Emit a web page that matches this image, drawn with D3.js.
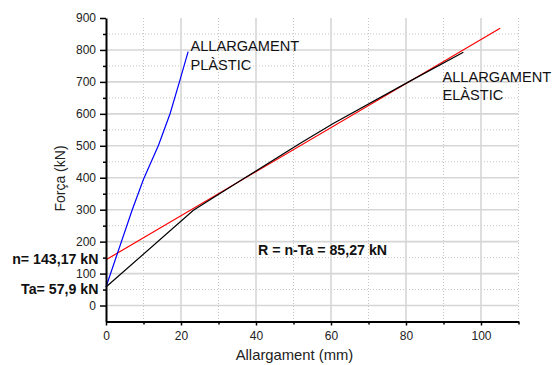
<!DOCTYPE html>
<html>
<head>
<meta charset="utf-8">
<script src="https://cdn.jsdelivr.net/npm/d3@7"></script>
<style>
  body { margin: 0; background: #fff; }
  svg { display: block; font-family: "Liberation Sans", Arial, sans-serif; }
</style>
</head>
<body>
<svg id="chart" width="560" height="365"></svg>
<script>
// data
const plasticX = [0, 7, 10, 14, 17.1, 19.7, 21.9];
const plasticY = [57.9, 300, 395, 502, 601, 705, 795];
const elasticX = [0, 23.3, 36, 51.7, 60.6, 80.2, 95.3];
const elasticY = [57.9, 298, 392, 507, 570, 697, 793];
const fitX = [0, 105.1];
const fitY = [143.17, 868];
const xTicks = [0, 20, 40, 60, 80, 100];
const yTicks = [0, 100, 200, 300, 400, 500, 600, 700, 800, 900];

const svg = d3.select("#chart");
const x = d3.scaleLinear().domain([0, 110]).range([106, 518.5]);
const y = d3.scaleLinear().domain([-50, 900]).range([321.5, 18]);

const xMinor = d3.range(10, 111, 20);
const yMinor = d3.range(50, 900, 100);

// grid
const grid = svg.append("g");
grid.selectAll(".vmin").data(xMinor).enter().append("line")
  .attr("x1", d => x(d)).attr("x2", d => x(d))
  .attr("y1", y(900)).attr("y2", y(-50))
  .attr("stroke", "#c4c4c4").attr("stroke-width", 1).attr("stroke-dasharray", "1,2");
grid.selectAll(".hmin").data(yMinor).enter().append("line")
  .attr("x1", x(0)).attr("x2", x(110))
  .attr("y1", d => y(d)).attr("y2", d => y(d))
  .attr("stroke", "#c4c4c4").attr("stroke-width", 1).attr("stroke-dasharray", "1,2");
grid.selectAll(".vmaj").data(xTicks.slice(1)).enter().append("line")
  .attr("x1", d => x(d)).attr("x2", d => x(d))
  .attr("y1", y(900)).attr("y2", y(-50))
  .attr("stroke", "#d6d6d6").attr("stroke-width", 1.6);
grid.selectAll(".hmaj").data(yTicks.slice(0, -1)).enter().append("line")
  .attr("x1", x(0)).attr("x2", x(110))
  .attr("y1", d => y(d)).attr("y2", d => y(d))
  .attr("stroke", "#d6d6d6").attr("stroke-width", 1.6);

// curves
const line = d3.line().x(d => x(d[0])).y(d => y(d[1]));
const series = [
  { xs: fitX, ys: fitY, color: "#ff0000" },
  { xs: elasticX, ys: elasticY, color: "#000000" },
  { xs: plasticX, ys: plasticY, color: "#0000ff" }
];
series.forEach(s => {
  svg.append("path")
    .datum(s.xs.map((v, i) => [v, s.ys[i]]))
    .attr("d", line)
    .attr("fill", "none")
    .attr("stroke", s.color)
    .attr("stroke-width", 1.2);
});

// axes
svg.append("g").attr("transform", `translate(0,${y(-50)})`)
  .call(d3.axisBottom(x).tickValues(xTicks).tickSize(4).tickSizeOuter(0).tickPadding(6));
svg.append("g").attr("transform", `translate(0,${y(-50)})`)
  .call(d3.axisBottom(x).tickValues(xMinor).tickSize(3).tickFormat(""))
  .call(g => g.select(".domain").remove());
svg.append("g").attr("transform", `translate(${x(0)},0)`)
  .call(d3.axisLeft(y).tickValues(yTicks).tickSize(6).tickSizeOuter(0).tickPadding(4));
svg.append("g").attr("transform", `translate(${x(0)},0)`)
  .call(d3.axisLeft(y).tickValues(yMinor).tickSize(3).tickFormat(""))
  .call(g => g.select(".domain").remove());

svg.selectAll(".domain").attr("stroke", "#000").attr("stroke-width", 2);
svg.selectAll(".tick line").attr("stroke", "#000").attr("stroke-width", 1.5);
svg.selectAll(".tick text").attr("font-size", 12).attr("fill", "#222")
  .attr("font-family", "Liberation Sans, Arial, sans-serif");

// axis titles
svg.append("text").attr("x", 294.5).attr("y", 360)
  .attr("text-anchor", "middle").attr("font-size", 14.8).attr("fill", "#222")
  .text("Allargament (mm)");
svg.append("text").attr("transform", "translate(65,178.5) rotate(-90)")
  .attr("text-anchor", "middle").attr("font-size", 14).attr("fill", "#222")
  .text("Força (kN)");

// annotations
function twoLines(x0, y0, a, b) {
  const t = svg.append("text").attr("x", x0).attr("y", y0)
    .attr("font-size", 14.6).attr("fill", "#111");
  t.append("tspan").attr("x", x0).text(a);
  t.append("tspan").attr("x", x0).attr("dy", 18.5).text(b);
}
twoLines(190.5, 51, "ALLARGAMENT", "PLÀSTIC");
twoLines(442.5, 81.5, "ALLARGAMENT", "ELÀSTIC");

const bold = [
  { x: 98.5, y: 263.5, anchor: "end", t: "n= 143,17 kN" },
  { x: 98.5, y: 294, anchor: "end", t: "Ta= 57,9 kN" },
  { x: 258, y: 255, anchor: "start", t: "R = n-Ta = 85,27 kN" }
];
svg.selectAll(".lbl").data(bold).enter().append("text")
  .attr("x", d => d.x).attr("y", d => d.y)
  .attr("text-anchor", d => d.anchor)
  .attr("font-size", 14.2).attr("font-weight", "bold")
  .attr("fill", "#111")
  .text(d => d.t);
</script>
</body>
</html>
